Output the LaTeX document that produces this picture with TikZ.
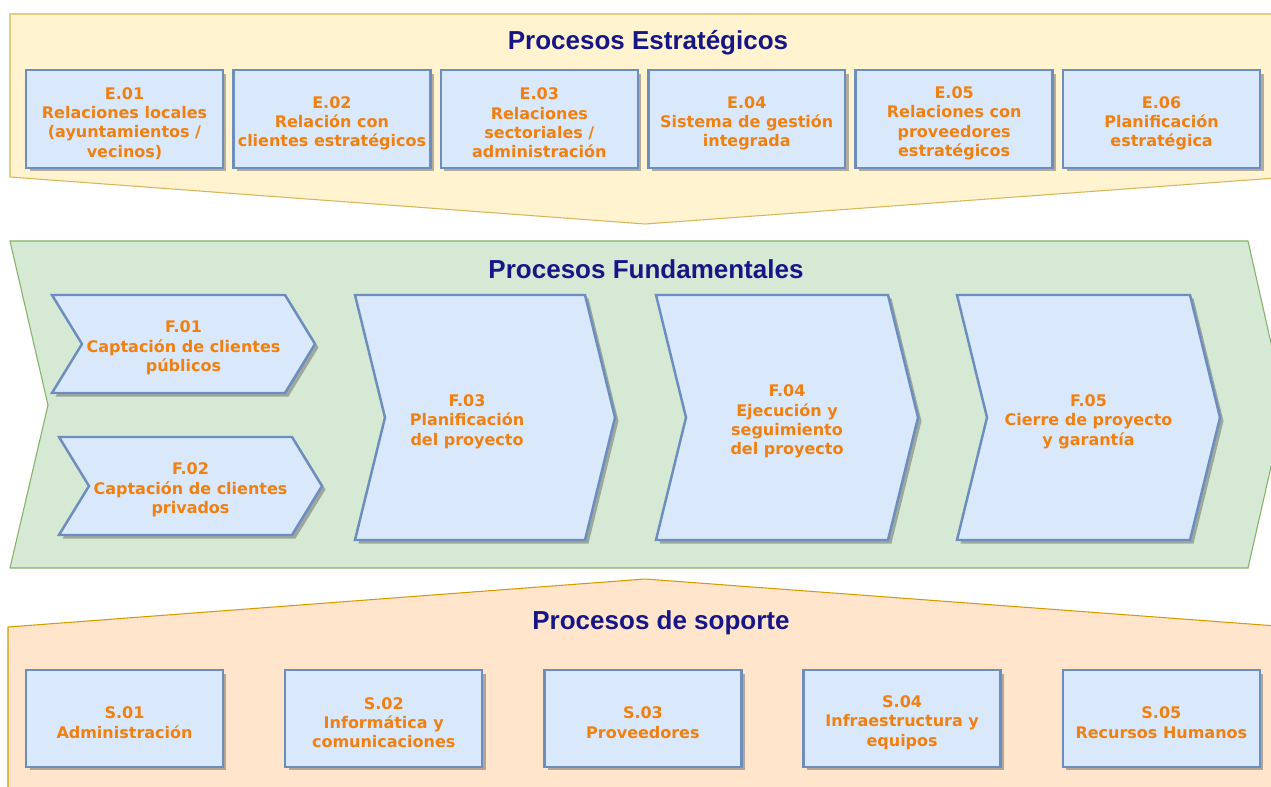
\documentclass[tikz,border=0pt]{standalone}
\usepackage{fontspec}
\setmainfont{DejaVu Sans}
\newfontfamily\titlefont{Liberation Sans}
\usepackage{tikz}
\usetikzlibrary{positioning}
\usetikzlibrary{shadows}
\definecolor{ecol}{RGB}{255,243,208}
\definecolor{edraw}{RGB}{214,182,86}
\definecolor{fcol}{RGB}{214,233,212}
\definecolor{fdraw}{RGB}{130,179,102}
\definecolor{scol}{RGB}{255,229,204}
\definecolor{sdraw}{RGB}{215,155,0}
\definecolor{boxcol}{RGB}{218,232,252}
\definecolor{boxdraw}{RGB}{108,142,191}
\definecolor{txtcol}{RGB}{240,128,16}
\definecolor{titcol}{RGB}{22,22,135}
\tikzset{
  band/.style={line width=0.6pt, line join=miter},
  boxshadow/.style={drop shadow={shadow xshift=0.07cm, shadow yshift=-0.07cm,
      fill=black!60, opacity=.5}},
  proc/.style={draw=boxdraw, fill=boxcol, line width=1.4pt, boxshadow,
      minimum width=3.94cm, minimum height=1.96cm, inner sep=0pt,
      align=center, text=txtcol, font=\bfseries\fontsize{9.1}{11}\selectfont},
  fproc/.style={draw=boxdraw, fill=boxcol, line width=1.4pt, boxshadow},
  ftext/.style={align=center, text=txtcol, inner sep=0pt, yshift=-0.08cm,
      font=\bfseries\fontsize{9.1}{11}\selectfont},
  title/.style={text=titcol, font=\titlefont\bfseries\fontsize{14.8}{17}\selectfont}
}
% first line pushed down a little
\newcommand{\hd}{\rule{0pt}{11.5pt}}
% chevron: name, x, y, w, h, text options, text
\newcommand{\chevron}[7]{%
  \filldraw[fproc] (#2,#3) -- ++(#4,0) -- ++(30,#5/2) -- ++(-30,#5/2)
    -- ++(-#4,0) -- ++(30,-#5/2) -- cycle;
  \node[ftext, #6] (#1) at ({#2+(#4+30)/2},{#3+#5/2}) {#7};
}

\begin{document}
\begin{tikzpicture}[x=0.02cm, y=-0.02cm]
  \useasboundingbox (0,0) rectangle (1271,787);
  \clip (0,0) rectangle (1271,787);

  % Bands
  \filldraw[band, fill=ecol, draw=edraw] (10,14) -- (1290,14) -- (1290,177)
    -- (645,224) -- (10,177) -- cycle;
  \filldraw[band, fill=fcol, draw=fdraw] (10,241) -- (1248,241) -- (1285,405)
    -- (1248,568) -- (10,568) -- (48,405) -- cycle;
  \filldraw[band, fill=scol, draw=sdraw] (8,627) -- (645,579) -- (1290,627)
    -- (1290,800) -- (8,800) -- cycle;

  \node[title] (estr) at (648,43) {Procesos Estratégicos};
  \node[title] (fund) at (646,269) {Procesos Fundamentales};
  \node[title] (sop) at (661,623) {Procesos de soporte};

  % Estrategicos
  \node[proc] (e1) at (124.5,119) {\hd E.01\\Relaciones locales\\(ayuntamientos /\\vecinos)};
  \node[proc, right=0.16cm of e1] (e2) {\hd E.02\\Relación con\\clientes estratégicos};
  \node[proc, right=0.16cm of e2] (e3) {\hd E.03\\Relaciones\\sectoriales /\\administración};
  \node[proc, right=0.16cm of e3] (e4) {\hd E.04\\Sistema de gestión\\integrada};
  \node[proc, right=0.16cm of e4] (e5) {\hd E.05\\Relaciones con\\proveedores\\estratégicos};
  \node[proc, right=0.16cm of e5] (e6) {\hd E.06\\Planificación\\estratégica};

  % Fundamentales
  \chevron{f1}{52}{295}{233}{98}{}{F.01\\Captación de clientes\\públicos}
  \chevron{f2}{59}{437}{233}{98}{}{F.02\\Captación de clientes\\privados}
  \chevron{f3}{355}{295}{230}{245}{xshift=-0.36cm}{F.03\\Planificación\\del proyecto}
  \chevron{f4}{656}{295}{232}{245}{}{F.04\\Ejecución y\\seguimiento\\del proyecto}
  \chevron{f5}{957}{295}{233}{245}{}{F.05\\Cierre de proyecto\\y garantía}

  % Soporte
  \node[proc, minimum height=1.94cm] (s1) at (124.5,718.5) {\hd S.01\\Administración};
  \node[proc, minimum height=1.94cm, right=1.196cm of s1] (s2) {\hd S.02\\Informática y\\comunicaciones};
  \node[proc, minimum height=1.94cm, right=1.196cm of s2] (s3) {\hd S.03\\Proveedores};
  \node[proc, minimum height=1.94cm, right=1.196cm of s3] (s4) {\hd S.04\\Infraestructura y\\equipos};
  \node[proc, minimum height=1.94cm, right=1.196cm of s4] (s5) {\hd S.05\\Recursos Humanos};
\end{tikzpicture}
\end{document}
